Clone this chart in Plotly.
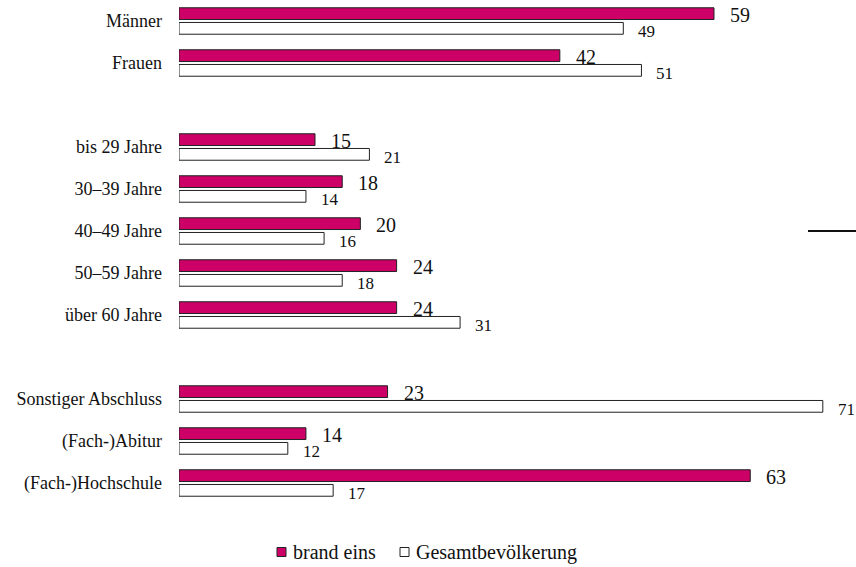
import plotly.graph_objects as go

# Survey groups (top to bottom); an empty row separates the groups
groups = [
    ["Männer", "Frauen"],
    ["bis 29 Jahre", "30–39 Jahre", "40–49 Jahre", "50–59 Jahre", "über 60 Jahre"],
    ["Sonstiger Abschluss", "(Fach-)Abitur", "(Fach-)Hochschule"],
]
brand_eins = [59, 42, 15, 18, 20, 24, 24, 23, 14, 63]
gesamt = [49, 51, 21, 14, 16, 18, 31, 71, 12, 17]
series_names = ["brand eins", "Gesamtbevölkerung"]

# row index for each category, leaving one blank row between groups
categories, rows = [], []
r = 0
for g in groups:
    for c in g:
        categories.append(c)
        rows.append(r)
        r += 1
    r += 1

MAGENTA = "#cc0066"
EDGE = "#222222"
FONT = "Liberation Serif"

fig = go.Figure()
fig.add_trace(go.Bar(
    name=series_names[0], y=rows, x=brand_eins, orientation="h",
    marker=dict(color=MAGENTA, line=dict(color=EDGE, width=1)),
    showlegend=False,
))
fig.add_trace(go.Bar(
    name=series_names[1], y=rows, x=gesamt, orientation="h",
    marker=dict(color="white", line=dict(color=EDGE, width=1)),
    showlegend=False,
))

annotations = []
for yv, v in zip(rows, brand_eins):
    annotations.append(dict(x=v, y=yv, text=str(v), showarrow=False,
                            xanchor="left", yanchor="middle", xshift=14, yshift=6,
                            font=dict(family=FONT, size=20, color="#111111")))
for yv, v in zip(rows, gesamt):
    annotations.append(dict(x=v, y=yv, text=str(v), showarrow=False,
                            xanchor="left", yanchor="middle", xshift=13, yshift=-10,
                            font=dict(family=FONT, size=17, color="#111111")))

# hand-drawn legend at the bottom: small square swatches followed by names
legend_y = 1 - 552 / 567
swatches = [(277, MAGENTA, series_names[0]), (400, "white", series_names[1])]
shapes = []
for px, col, name in swatches:
    x0 = (px - 179) / 671
    x1 = (px + 9 - 179) / 671
    shapes.append(dict(type="rect", xref="paper", yref="paper",
                       x0=x0, x1=x1, y0=legend_y - 4.5 / 567, y1=legend_y + 4.5 / 567,
                       fillcolor=col, line=dict(color=EDGE, width=1)))
    annotations.append(dict(xref="paper", yref="paper", x=(px + 14 - 179) / 671,
                            y=legend_y, text=name, showarrow=False,
                            xanchor="left", yanchor="middle",
                            font=dict(family=FONT, size=20, color="#111111")))

# short rule on the right edge
shapes.append(dict(type="line", xref="paper", yref="y",
                   x0=(808 - 179) / 671, x1=1.01, y0=rows[4], y1=rows[4],
                   line=dict(color="#111111", width=2)))

# the plot area spans the full page; the rows below the last group hold the legend
fig.update_layout(
    width=856, height=567,
    margin=dict(l=179, r=6, t=0, b=0),
    paper_bgcolor="white", plot_bgcolor="white",
    barmode="group", bargap=0.3, bargroupgap=0.2,
    font=dict(family=FONT, size=18, color="#111111"),
    xaxis=dict(range=[0, 74], visible=False, fixedrange=True),
    yaxis=dict(range=[-0.5 + 567 / 42, -0.5], tickvals=rows, ticktext=categories,
               showgrid=False, zeroline=False, showline=False, ticks="",
               ticklabelstandoff=16, tickfont=dict(family=FONT, size=18)),
    showlegend=False,
    annotations=annotations,
    shapes=shapes,
)
fig.update_traces(cliponaxis=False)

fig.write_html("out.html")
